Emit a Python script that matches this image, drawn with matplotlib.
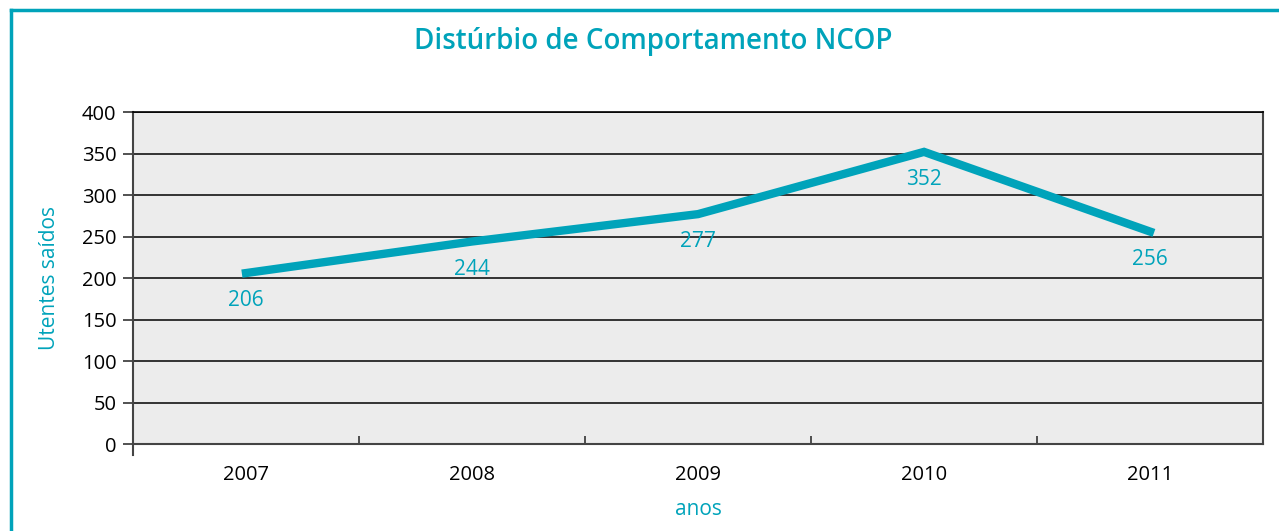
import matplotlib.pyplot as plt
from matplotlib.lines import Line2D

# Dados
anos = ['2007', '2008', '2009', '2010', '2011']
utentes = [206, 244, 277, 352, 256]

teal = '#00A3BA'
plt.rcParams['font.family'] = ['Open Sans', 'DejaVu Sans']

fig = plt.figure(figsize=(12.79, 5.31), dpi=100)
ax = fig.add_axes([0.104, 0.1638, 0.8835, 0.6252])

x = list(range(len(anos)))
ax.set_facecolor('#ECECEC')
ax.plot(x, utentes, color=teal, linewidth=6, solid_joinstyle='miter', zorder=3)

for xi, v in zip(x, utentes):
    ax.annotate(str(v), (xi, v), xytext=(0, -20), textcoords='offset points',
                ha='center', va='center', color=teal, fontsize=15)

ax.set_xlim(-0.5, len(anos) - 0.5)
ax.set_ylim(0, 400)
ax.set_yticks(range(0, 401, 50))
ax.yaxis.grid(True, color='black', linewidth=1.1)
ax.set_axisbelow(True)

ax.set_xticks(x)
ax.set_xticklabels(anos)
ax.tick_params(axis='x', length=0, pad=15, labelsize=14.5)
ax.set_xticks([i + 0.5 for i in x[:-1]], minor=True)
ax.tick_params(axis='x', which='minor', direction='in', length=6, width=1.2, color='#333333')
ax.tick_params(axis='y', length=7, width=1.2, color='#333333', labelsize=14.5, pad=5)

for s in ['left', 'right', 'bottom']:
    ax.spines[s].set_color('#444444')
    ax.spines[s].set_linewidth(1.5)
ax.spines['top'].set_color('black')
ax.spines['top'].set_linewidth(1.2)
ax.spines['left'].set_bounds(-13, 400)

ax.set_xlabel('anos', color=teal, fontsize=15, labelpad=10)
ax.set_ylabel('Utentes saídos', color=teal, fontsize=15, labelpad=16)

fig.suptitle('Distúrbio de Comportamento NCOP', color=teal, fontsize=20,
             fontweight='semibold', x=0.5106, y=0.95)

# moldura
fig.add_artist(Line2D([0.0085, 0.0085], [0, 0.981], color=teal, linewidth=2.5))
fig.add_artist(Line2D([0.0085, 1], [0.981, 0.981], color=teal, linewidth=2.5))

fig.savefig('out.png', dpi=100)
